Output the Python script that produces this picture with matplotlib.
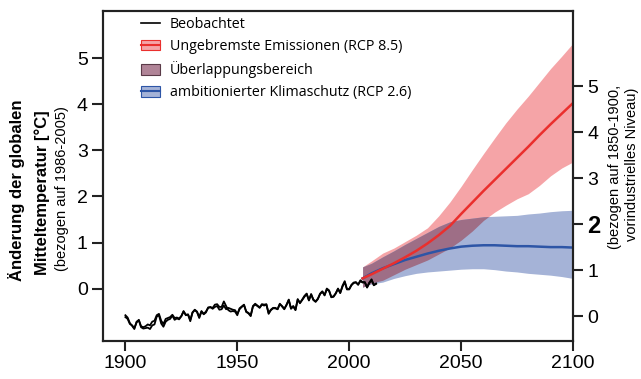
import numpy as np
import matplotlib
matplotlib.use("Agg")
import matplotlib.pyplot as plt
from matplotlib.patches import Patch
from matplotlib.lines import Line2D

plt.rcParams["font.family"] = ["Liberation Sans", "DejaVu Sans"]

# observed global mean temperature (two datasets), relative to 1986-2005
obs_years = list(range(1900, 2013))
obs_a = [-0.58, -0.63, -0.75, -0.81, -0.88, -0.72, -0.69, -0.84, -0.87, -0.86,
         -0.85, -0.88, -0.80, -0.78, -0.61, -0.58, -0.76, -0.83, -0.72, -0.68,
         -0.66, -0.59, -0.68, -0.65, -0.67, -0.60, -0.49, -0.58, -0.57, -0.71,
         -0.52, -0.47, -0.51, -0.64, -0.50, -0.56, -0.52, -0.41, -0.41, -0.42,
         -0.35, -0.34, -0.40, -0.40, -0.28, -0.38, -0.47, -0.50, -0.49, -0.50,
         -0.58, -0.43, -0.39, -0.35, -0.51, -0.54, -0.60, -0.38, -0.33, -0.37,
         -0.41, -0.34, -0.35, -0.34, -0.55, -0.47, -0.43, -0.43, -0.45, -0.33,
         -0.39, -0.45, -0.35, -0.24, -0.44, -0.39, -0.47, -0.23, -0.32, -0.24,
         -0.16, -0.11, -0.26, -0.12, -0.25, -0.29, -0.23, -0.11, -0.06, -0.15,
         0.00, -0.04, -0.19, -0.18, -0.11, 0.00, -0.10, 0.06, 0.16, -0.02,
         -0.02, 0.08, 0.13, 0.14, 0.08, 0.18, 0.14, 0.14, 0.02, 0.13,
         0.20, 0.08, 0.11]
obs_b = [-0.62, -0.66, -0.77, -0.80, -0.86, -0.74, -0.68, -0.82, -0.84, -0.82,
         -0.78, -0.80, -0.72, -0.70, -0.58, -0.55, -0.70, -0.77, -0.66, -0.64,
         -0.62, -0.57, -0.64, -0.63, -0.65, -0.60, -0.50, -0.57, -0.56, -0.68,
         -0.52, -0.46, -0.50, -0.62, -0.49, -0.55, -0.50, -0.42, -0.40, -0.44,
         -0.40, -0.38, -0.46, -0.45, -0.37, -0.45, -0.42, -0.44, -0.46, -0.47,
         -0.55, -0.45, -0.40, -0.36, -0.50, -0.53, -0.58, -0.39, -0.35, -0.38,
         -0.42, -0.35, -0.37, -0.35, -0.53, -0.46, -0.42, -0.42, -0.45, -0.34,
         -0.38, -0.44, -0.36, -0.25, -0.43, -0.38, -0.46, -0.24, -0.31, -0.25,
         -0.18, -0.12, -0.25, -0.13, -0.24, -0.28, -0.22, -0.12, -0.07, -0.14,
         -0.02, -0.05, -0.18, -0.17, -0.10, -0.01, -0.09, 0.04, 0.14, -0.01,
         -0.01, 0.07, 0.12, 0.13, 0.09, 0.16, 0.13, 0.13, 0.03, 0.12,
         0.18, 0.07, 0.10]

# projections (multi-model mean and range), relative to 1986-2005
proj_years = [2006, 2010, 2015, 2020, 2025, 2030, 2035, 2040, 2045, 2050,
              2055, 2060, 2065, 2070, 2075, 2080, 2085, 2090, 2095, 2100]
rcp85_mean = [0.22, 0.31, 0.43, 0.55, 0.68, 0.82, 0.98, 1.16, 1.36, 1.62,
              1.87, 2.12, 2.36, 2.60, 2.84, 3.08, 3.33, 3.57, 3.80, 4.03]
rcp85_hi = [0.47, 0.60, 0.77, 0.88, 1.02, 1.16, 1.32, 1.58, 1.88, 2.22,
            2.58, 2.93, 3.27, 3.60, 3.90, 4.18, 4.48, 4.78, 5.05, 5.33]
rcp85_lo = [0.03, 0.12, 0.18, 0.30, 0.42, 0.52, 0.62, 0.75, 0.88, 1.05,
            1.25, 1.48, 1.66, 1.81, 1.95, 2.06, 2.24, 2.45, 2.62, 2.75]
rcp26_mean = [0.22, 0.33, 0.44, 0.53, 0.62, 0.69, 0.76, 0.82, 0.87, 0.91,
              0.93, 0.94, 0.94, 0.93, 0.92, 0.92, 0.91, 0.90, 0.90, 0.89]
rcp26_hi = [0.47, 0.55, 0.69, 0.82, 0.96, 1.09, 1.22, 1.35, 1.45, 1.50,
            1.53, 1.56, 1.57, 1.58, 1.59, 1.62, 1.64, 1.67, 1.69, 1.70]
rcp26_lo = [0.03, 0.10, 0.14, 0.22, 0.28, 0.33, 0.36, 0.38, 0.40, 0.42,
            0.43, 0.43, 0.41, 0.38, 0.36, 0.33, 0.31, 0.29, 0.26, 0.22]

left_ticks = [0, 1, 2, 3, 4, 5]
right_ticks = [0, 1, 2, 3, 4, 5]
x_ticks = [1900, 1950, 2000, 2050, 2100]
offset = 0.6  # 1850-1900 vs 1986-2005

RED_FILL, RED_LINE = "#f5a4a7", "#ea2f2d"
BLUE_FILL, BLUE_LINE = "#a5b3d7", "#2d55a6"
OVER_FILL = "#9e6e86"

fig = plt.figure(figsize=(6.41, 3.79), dpi=100)
ax = fig.add_axes([103 / 641, 1 - 341 / 379, (573 - 103) / 641, (341 - 11) / 379])

py = np.array(proj_years)
r_lo, r_hi = np.array(rcp85_lo), np.array(rcp85_hi)
b_lo, b_hi = np.array(rcp26_lo), np.array(rcp26_hi)
ov_lo = np.maximum(r_lo, b_lo)
ov_hi = np.minimum(r_hi, b_hi)

ax.fill_between(py, r_lo, r_hi, color=RED_FILL, lw=0)
ax.fill_between(py, b_lo, b_hi, color=BLUE_FILL, lw=0)
ax.fill_between(py, ov_lo, ov_hi, where=ov_hi > ov_lo, interpolate=True,
                color=OVER_FILL, lw=0)
ax.plot(py, rcp26_mean, color=BLUE_LINE, lw=1.8)
ax.plot(py, rcp85_mean, color=RED_LINE, lw=1.8)
ax.plot(obs_years, obs_b, color="black", lw=1.3)
ax.plot(obs_years, obs_a, color="black", lw=1.3)

ax.set_xlim(1890, 2100)
ax.set_ylim(-1.14, 6.03)
ax.set_xticks(x_ticks)
ax.set_yticks(left_ticks)
for s in ax.spines.values():
    s.set_linewidth(1.5)
    s.set_color("#222222")
ax.tick_params(axis="both", direction="out", width=1.5, color="#222222",
               labelsize=14, pad=3)
ax.tick_params(axis="y", length=8)
ax.tick_params(axis="x", length=7)

tw = ax.twinx()
tw.set_ylim(-1.14 + offset, 6.03 + offset)
tw.set_yticks(right_ticks)
tw.tick_params(axis="y", direction="out", width=1.5, length=7.5,
               color="#222222", labelsize=14, pad=3)
for s in tw.spines.values():
    s.set_linewidth(1.5)
    s.set_color("#222222")
for lab in tw.get_yticklabels():
    if lab.get_text() == "2":
        lab.set_fontweight("bold")
        lab.set_fontsize(17)

handles = [
    Line2D([], [], color="black", lw=1.2),
    (Patch(facecolor=RED_FILL, edgecolor=RED_LINE, lw=0.8),
     Line2D([], [], color=RED_LINE, lw=1.5)),
    Patch(facecolor="#b08497", edgecolor="#5a3a48", lw=0.8),
    (Patch(facecolor=BLUE_FILL, edgecolor=BLUE_LINE, lw=0.8),
     Line2D([], [], color=BLUE_LINE, lw=1.5)),
]
labels = ["Beobachtet", "Ungebremste Emissionen (RCP 8.5)",
          "Überlappungsbereich", "ambitionierter Klimaschutz (RCP 2.6)"]
ax.legend(handles, labels, loc="upper left", frameon=False,
          bbox_to_anchor=(141 / 641, 1 - 17 / 379), bbox_transform=fig.transFigure,
          borderaxespad=0, borderpad=0, handlelength=1.3, handleheight=0.75,
          handletextpad=0.7, labelspacing=0.5,
          prop={"family": ["Open Sans", "DejaVu Sans"], "size": 10.3})

fig.text(17 / 641, 1 - 190 / 379, "Änderung der globalen", rotation=90,
         ha="center", va="center", fontsize=12, fontweight="bold")
fig.text(42 / 641, 1 - 193 / 379, "Mitteltemperatur [°C]", rotation=90,
         ha="center", va="center", fontsize=12, fontweight="bold")
fig.text(62 / 641, 1 - 189 / 379, "(bezogen auf 1986-2005)", rotation=90,
         ha="center", va="center", fontsize=10.5)
fig.text(615 / 641, 1 - 167 / 379, "(bezogen auf 1850-1900,", rotation=90,
         ha="center", va="center", fontsize=10.5,
         family=["Liberation Sans Narrow", "Liberation Sans"])
fig.text(632 / 641, 1 - 164 / 379, "vorindustrielles Niveau)", rotation=90,
         ha="center", va="center", fontsize=10.5,
         family=["Liberation Sans Narrow", "Liberation Sans"])

fig.savefig("out.png", dpi=100)
